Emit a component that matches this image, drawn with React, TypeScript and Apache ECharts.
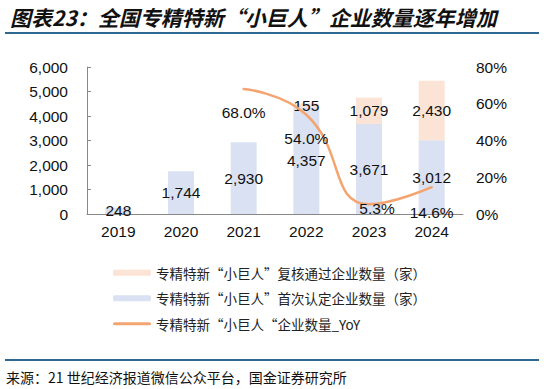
import React, { useEffect, useRef } from "react";
import * as echarts from "echarts";

const years = ["2019", "2020", "2021", "2022", "2023", "2024"];
const firstCertified = [248, 1744, 2930, 4357, 3671, 3012];
const reviewPassed = [null, null, null, 155, 1079, 2430];
const yoy = [null, null, 68.0, 54.0, 5.3, 14.6];
const leftTicks = { min: 0, max: 6000, interval: 1000 };
const rightTicks = { min: 0, max: 80, interval: 20 };

const nameReview = "专精特新“小巨人”复核通过企业数量（家）";
const nameFirst = "专精特新“小巨人”首次认定企业数量（家）";
const nameYoy = "专精特新“小巨人“企业数量_YoY";
const titleText = "图表23：全国专精特新“小巨人”企业数量逐年增加";
const sourceText = "来源：21 世纪经济报道微信公众平台，国金证券研究所";

const FONT = "'Liberation Sans', Arial, 'Noto Sans CJK SC', sans-serif";
const CJK = "'Noto Sans CJK SC', sans-serif";

export default function App() {
  const ref = useRef<HTMLDivElement>(null);
  useEffect(() => {
    document.body.style.margin = "0";
    const chart = echarts.init(ref.current!, null, { renderer: "svg" });
    const lineOffsets: Record<number, number[]> = { 4: [8, -20], 5: [0, 2] };
    chart.setOption({
      animation: false,
      textStyle: { fontFamily: FONT },
      title: {
        text: titleText,
        left: 5,
        top: 1,
        textStyle: {
          fontFamily: CJK,
          fontSize: 21,
          fontWeight: "bold",
          fontStyle: "italic",
          color: "#111",
        },
      },
      graphic: [
        {
          type: "line",
          shape: { x1: 5, y1: 33, x2: 539, y2: 33 },
          style: { stroke: "#2E6892", lineWidth: 2 },
        },
        {
          type: "line",
          shape: { x1: 5, y1: 360, x2: 539, y2: 360 },
          style: { stroke: "#2E6892", lineWidth: 2 },
        },
        {
          type: "text",
          x: 6,
          y: 377,
          style: {
            text: sourceText,
            fontFamily: CJK,
            fontSize: 14,
            fill: "#111",
            verticalAlign: "middle",
          },
        },
      ],
      legend: {
        orient: "vertical",
        left: 108,
        top: 261,
        itemWidth: 38,
        itemHeight: 6,
        itemGap: 12,
        textStyle: { fontFamily: CJK, fontSize: 13.5, color: "#222" },
        data: [
          nameReview,
          nameFirst,
          {
            name: nameYoy,
            icon: "path://M1.5,0 L36.5,0 A1.5,1.5 0 0 1 36.5,3 L1.5,3 A1.5,1.5 0 0 1 1.5,0 Z",
            itemStyle: { color: "#F4A46F" },
          },
        ],
      },
      grid: { left: 87, right: 81, top: 67, bottom: 175, containLabel: false },
      xAxis: {
        type: "category",
        data: years,
        axisLine: { lineStyle: { color: "#888", width: 1 } },
        axisTick: { show: false },
        axisLabel: { fontSize: 15.5, color: "#111", margin: 10 },
      },
      yAxis: [
        {
          type: "value",
          ...leftTicks,
          axisLine: { show: true, lineStyle: { color: "#888" } },
          axisTick: { show: true, inside: true, length: 4, lineStyle: { color: "#888" } },
          splitLine: { show: false },
          axisLabel: {
            fontSize: 15.5,
            color: "#111",
            margin: 19,
            formatter: (v: number) => v.toLocaleString("en-US"),
          },
        },
        {
          type: "value",
          ...rightTicks,
          axisLine: { show: false },
          axisTick: { show: false },
          splitLine: { show: false },
          axisLabel: { fontSize: 15.5, color: "#111", margin: 13, formatter: "{value}%" },
        },
      ],
      series: [
        {
          name: nameFirst,
          type: "bar",
          stack: "total",
          barWidth: 26,
          itemStyle: { color: "#DAE1F2" },
          label: {
            show: true,
            position: "inside",
            fontSize: 15.5,
            color: "#111",
            formatter: (p: any) => Number(p.value).toLocaleString("en-US"),
          },
          data: firstCertified,
        },
        {
          name: nameReview,
          type: "bar",
          stack: "total",
          barWidth: 26,
          itemStyle: { color: "#FBE3D5" },
          label: {
            show: true,
            position: "inside",
            fontSize: 15.5,
            color: "#111",
            formatter: (p: any) => Number(p.value).toLocaleString("en-US"),
          },
          data: reviewPassed,
        },
        {
          name: nameYoy,
          type: "line",
          yAxisIndex: 1,
          smooth: true,
          symbol: "circle",
          symbolSize: 0,
          showSymbol: true,
          lineStyle: { color: "#F4A46F", width: 2.5, cap: "round" },
          itemStyle: { color: "#F4A46F" },
          label: {
            show: true,
            position: "bottom",
            distance: 16,
            fontSize: 15.5,
            color: "#111",
            formatter: (p: any) => Number(p.value).toFixed(1) + "%",
          },
          data: yoy.map((v, i) =>
            v === null
              ? null
              : lineOffsets[i]
              ? { value: v, label: { offset: lineOffsets[i] } }
              : v
          ),
        },
      ],
    });
    return () => chart.dispose();
  }, []);
  return <div ref={ref} style={{ width: 544, height: 389 }} />;
}
